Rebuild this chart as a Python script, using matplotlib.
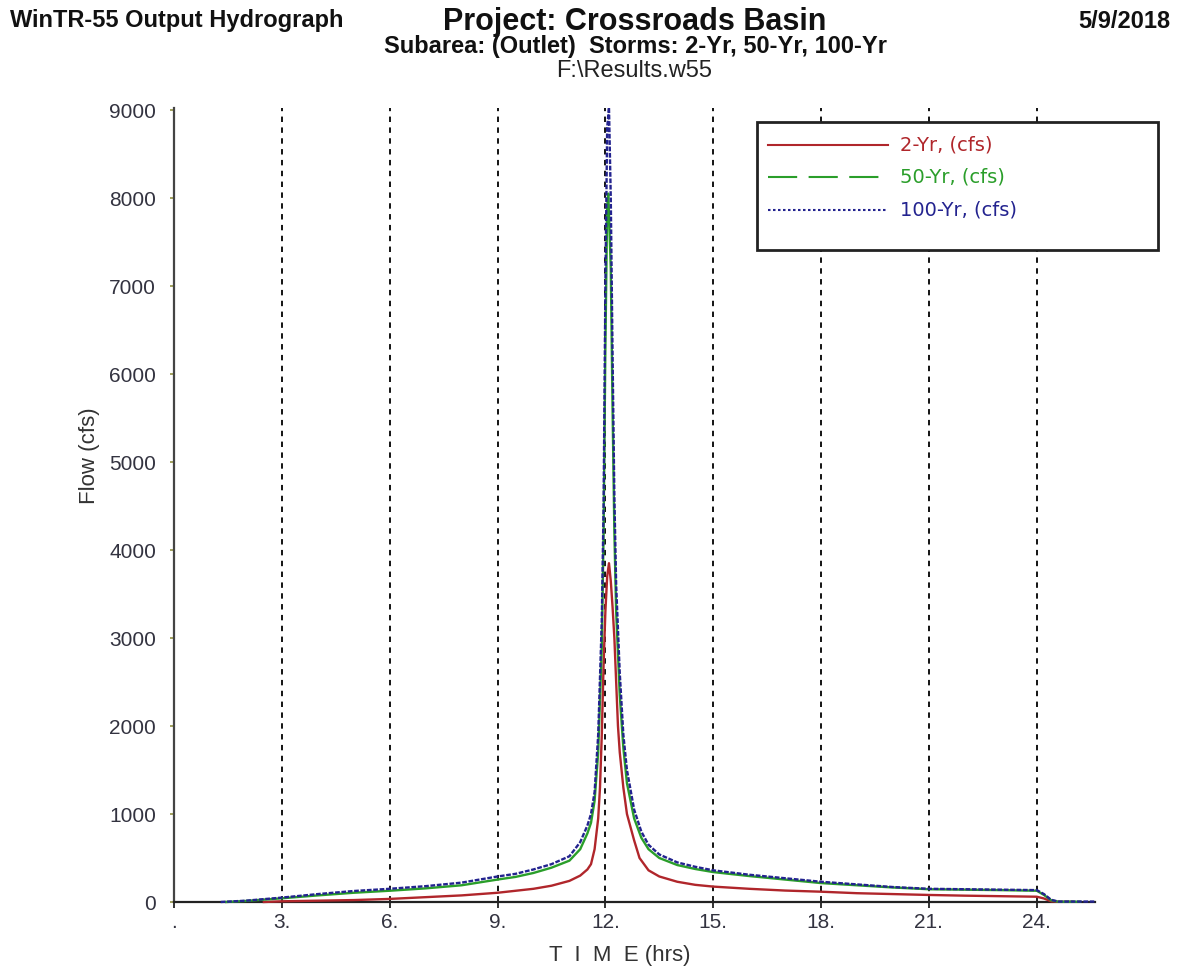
import matplotlib
matplotlib.use("Agg")
import matplotlib.pyplot as plt
from matplotlib.lines import Line2D
from matplotlib.patches import Rectangle

# Hydrograph ordinates (hours, cfs)
time_2yr = [2.5, 3.0, 4.0, 5.0, 6.0, 7.0, 8.0, 9.0, 10.0, 10.5, 11.0, 11.3, 11.5, 11.6,
            11.7, 11.8, 11.85, 11.9, 11.95, 12.0, 12.05, 12.1, 12.15, 12.2, 12.25, 12.3,
            12.35, 12.4, 12.5, 12.6, 12.8, 12.95, 13.2, 13.5, 14.0, 14.5, 15.0, 16.0,
            17.0, 18.0, 19.0, 20.0, 21.0, 22.0, 23.0, 24.0, 24.2, 24.4, 24.6, 25.0]
flow_2yr = [0, 8, 15, 22, 35, 55, 75, 105, 150, 185, 240, 300, 370, 430,
            600, 950, 1300, 1900, 2700, 3300, 3700, 3850, 3650, 3350, 3000, 2500,
            2000, 1700, 1300, 1000, 700, 500, 360, 290, 230, 195, 175, 150,
            130, 117, 100, 90, 80, 72, 66, 60, 40, 8, 2, 2]

time_50yr = [1.45, 2.0, 3.0, 4.0, 5.0, 6.0, 7.0, 8.0, 9.0, 9.5, 10.0, 10.5, 11.0, 11.3,
             11.5, 11.6, 11.7, 11.8, 11.9, 11.95, 12.0, 12.05, 12.08, 12.15, 12.2, 12.25,
             12.3, 12.4, 12.5, 12.6, 12.8, 13.0, 13.2, 13.5, 14.0, 14.5, 15.0, 16.0, 17.0,
             18.0, 19.0, 20.0, 21.0, 22.0, 23.0, 24.0, 24.2, 24.4, 24.6, 25.2]
flow_50yr = [0, 12, 42, 75, 105, 128, 155, 190, 255, 285, 330, 390, 470, 600,
             780, 900, 1150, 1700, 2900, 4200, 6300, 7900, 8050, 7200, 5600, 4200,
             3300, 2350, 1750, 1350, 950, 730, 600, 500, 420, 375, 340, 295, 255,
             215, 190, 165, 145, 140, 135, 128, 80, 20, 3, 3]

time_100yr = [1.3, 2.0, 3.0, 4.0, 5.0, 6.0, 7.0, 8.0, 9.0, 9.5, 10.0, 10.5, 11.0, 11.3,
              11.5, 11.6, 11.7, 11.8, 11.9, 11.95, 12.0, 12.05, 12.1, 12.15, 12.2, 12.25,
              12.3, 12.4, 12.5, 12.6, 12.8, 13.0, 13.2, 13.5, 14.0, 14.5, 15.0, 16.0, 17.0,
              18.0, 19.0, 20.0, 21.0, 22.0, 23.0, 24.0, 24.2, 24.4, 24.6, 25.6]
flow_100yr = [0, 15, 50, 90, 125, 150, 180, 220, 290, 320, 370, 430, 520, 680,
              870, 1000, 1250, 1900, 3200, 4500, 7000, 8800, 9030, 8000, 6200, 4600,
              3600, 2600, 1900, 1500, 1050, 800, 650, 540, 450, 400, 360, 310, 270,
              230, 200, 170, 150, 145, 140, 135, 90, 25, 5, 5]

x_ticks = [0, 3, 6, 9, 12, 15, 18, 21, 24]
x_tick_labels = [".", "3.", "6.", "9.", "12.", "15.", "18.", "21.", "24."]
y_ticks = [0, 1000, 2000, 3000, 4000, 5000, 6000, 7000, 8000, 9000]

series_labels = ["2-Yr, (cfs)", "50-Yr, (cfs)", "100-Yr, (cfs)"]
c_red, c_green, c_blue = "#b0262b", "#2a9e2a", "#23238f"

W, H = 1179, 971
fig = plt.figure(figsize=(W / 100, H / 100), dpi=100)
fig.patch.set_facecolor("white")

sans = ["Liberation Sans", "DejaVu Sans"]

def fx(px):
    return px / W

def fy(py):
    return 1 - py / H

ax = fig.add_axes([fx(174), fy(902), fx(1095) - fx(174), fy(108) - fy(902)])
ax.set_xlim(0, 25.62)
ax.set_ylim(0, 9023)

for t in x_ticks[1:]:
    ax.axvline(t, color="black", lw=1.3, linestyle=(0, (3, 3)), zorder=1)

ax.plot(time_2yr, flow_2yr, color=c_red, lw=1.7, zorder=3, clip_on=False)
ax.plot(time_50yr, flow_50yr, color=c_green, lw=1.7, zorder=4, clip_on=False)
ax.plot(time_100yr, flow_100yr, color=c_blue, lw=1.7, linestyle=(0, (2.0, 0.7)),
        zorder=5, clip_on=False)

for s in ("top", "right"):
    ax.spines[s].set_visible(False)
ax.spines["left"].set_color("#444444")
ax.spines["left"].set_linewidth(1.6)
ax.spines["bottom"].set_color("#222222")
ax.spines["bottom"].set_linewidth(1.6)

ax.set_xticks(x_ticks)
ax.set_xticklabels(x_tick_labels, fontfamily=sans, fontsize=15, color="#333340")
ax.set_yticks(y_ticks)
ax.set_yticklabels([str(v) for v in y_ticks], fontfamily=sans, fontsize=15, color="#333340")
ax.tick_params(axis="x", direction="inout", length=8, width=1.3, color="#222222", pad=4)
ax.tick_params(axis="y", direction="out", length=3, width=1.3, color="#9a9a50", pad=10)

fig.text(fx(89), fy(456), "Flow (cfs)", rotation=90, ha="center", va="center",
         fontfamily=sans, fontsize=16, color="#333333")
fig.text(fx(620), fy(955), "T  I  M  E (hrs)", ha="center", va="center",
         fontfamily=sans, fontsize=16, color="#333333")

# Header block
fig.text(fx(10), fy(21), "WinTR-55 Output Hydrograph", ha="left", va="center",
         fontfamily=sans, fontweight="bold", fontsize=17, color="#111111")
fig.text(fx(1170), fy(21), "5/9/2018", ha="right", va="center",
         fontfamily=sans, fontweight="bold", fontsize=17, color="#111111")
fig.text(fx(635), fy(22), "Project: Crossroads Basin", ha="center", va="center",
         fontfamily=sans, fontweight="bold", fontsize=22, color="#111111")
fig.text(fx(636), fy(46), "Subarea: (Outlet)  Storms: 2-Yr, 50-Yr, 100-Yr", ha="center",
         va="center", fontfamily=sans, fontweight="bold", fontsize=17, color="#111111")
fig.text(fx(634), fy(71), "F:\\Results.w55", ha="center", va="center",
         fontfamily=sans, fontsize=17, color="#222222")

# Legend box
fig.patches.append(Rectangle((fx(757), fy(250)), fx(1158) - fx(757), fy(122) - fy(250),
                             transform=fig.transFigure, facecolor="white",
                             edgecolor="#222222", lw=2, zorder=10))
legend_rows = [145, 177, 210]
legend_styles = [(c_red, "-"), (c_green, (0, (14, 5.5))), (c_blue, (0, (1.2, 1.2)))]
for row, (col, ls), lab in zip(legend_rows, legend_styles, series_labels):
    fig.add_artist(Line2D([fx(768), fx(888)], [fy(row), fy(row)], transform=fig.transFigure,
                          color=col, lw=1.5, linestyle=ls, zorder=11))
    fig.text(fx(900), fy(row), lab, ha="left", va="center", fontfamily=["DejaVu Sans"],
             fontsize=14, color=col, zorder=11)

fig.savefig("out.png", dpi=100, facecolor="white")
